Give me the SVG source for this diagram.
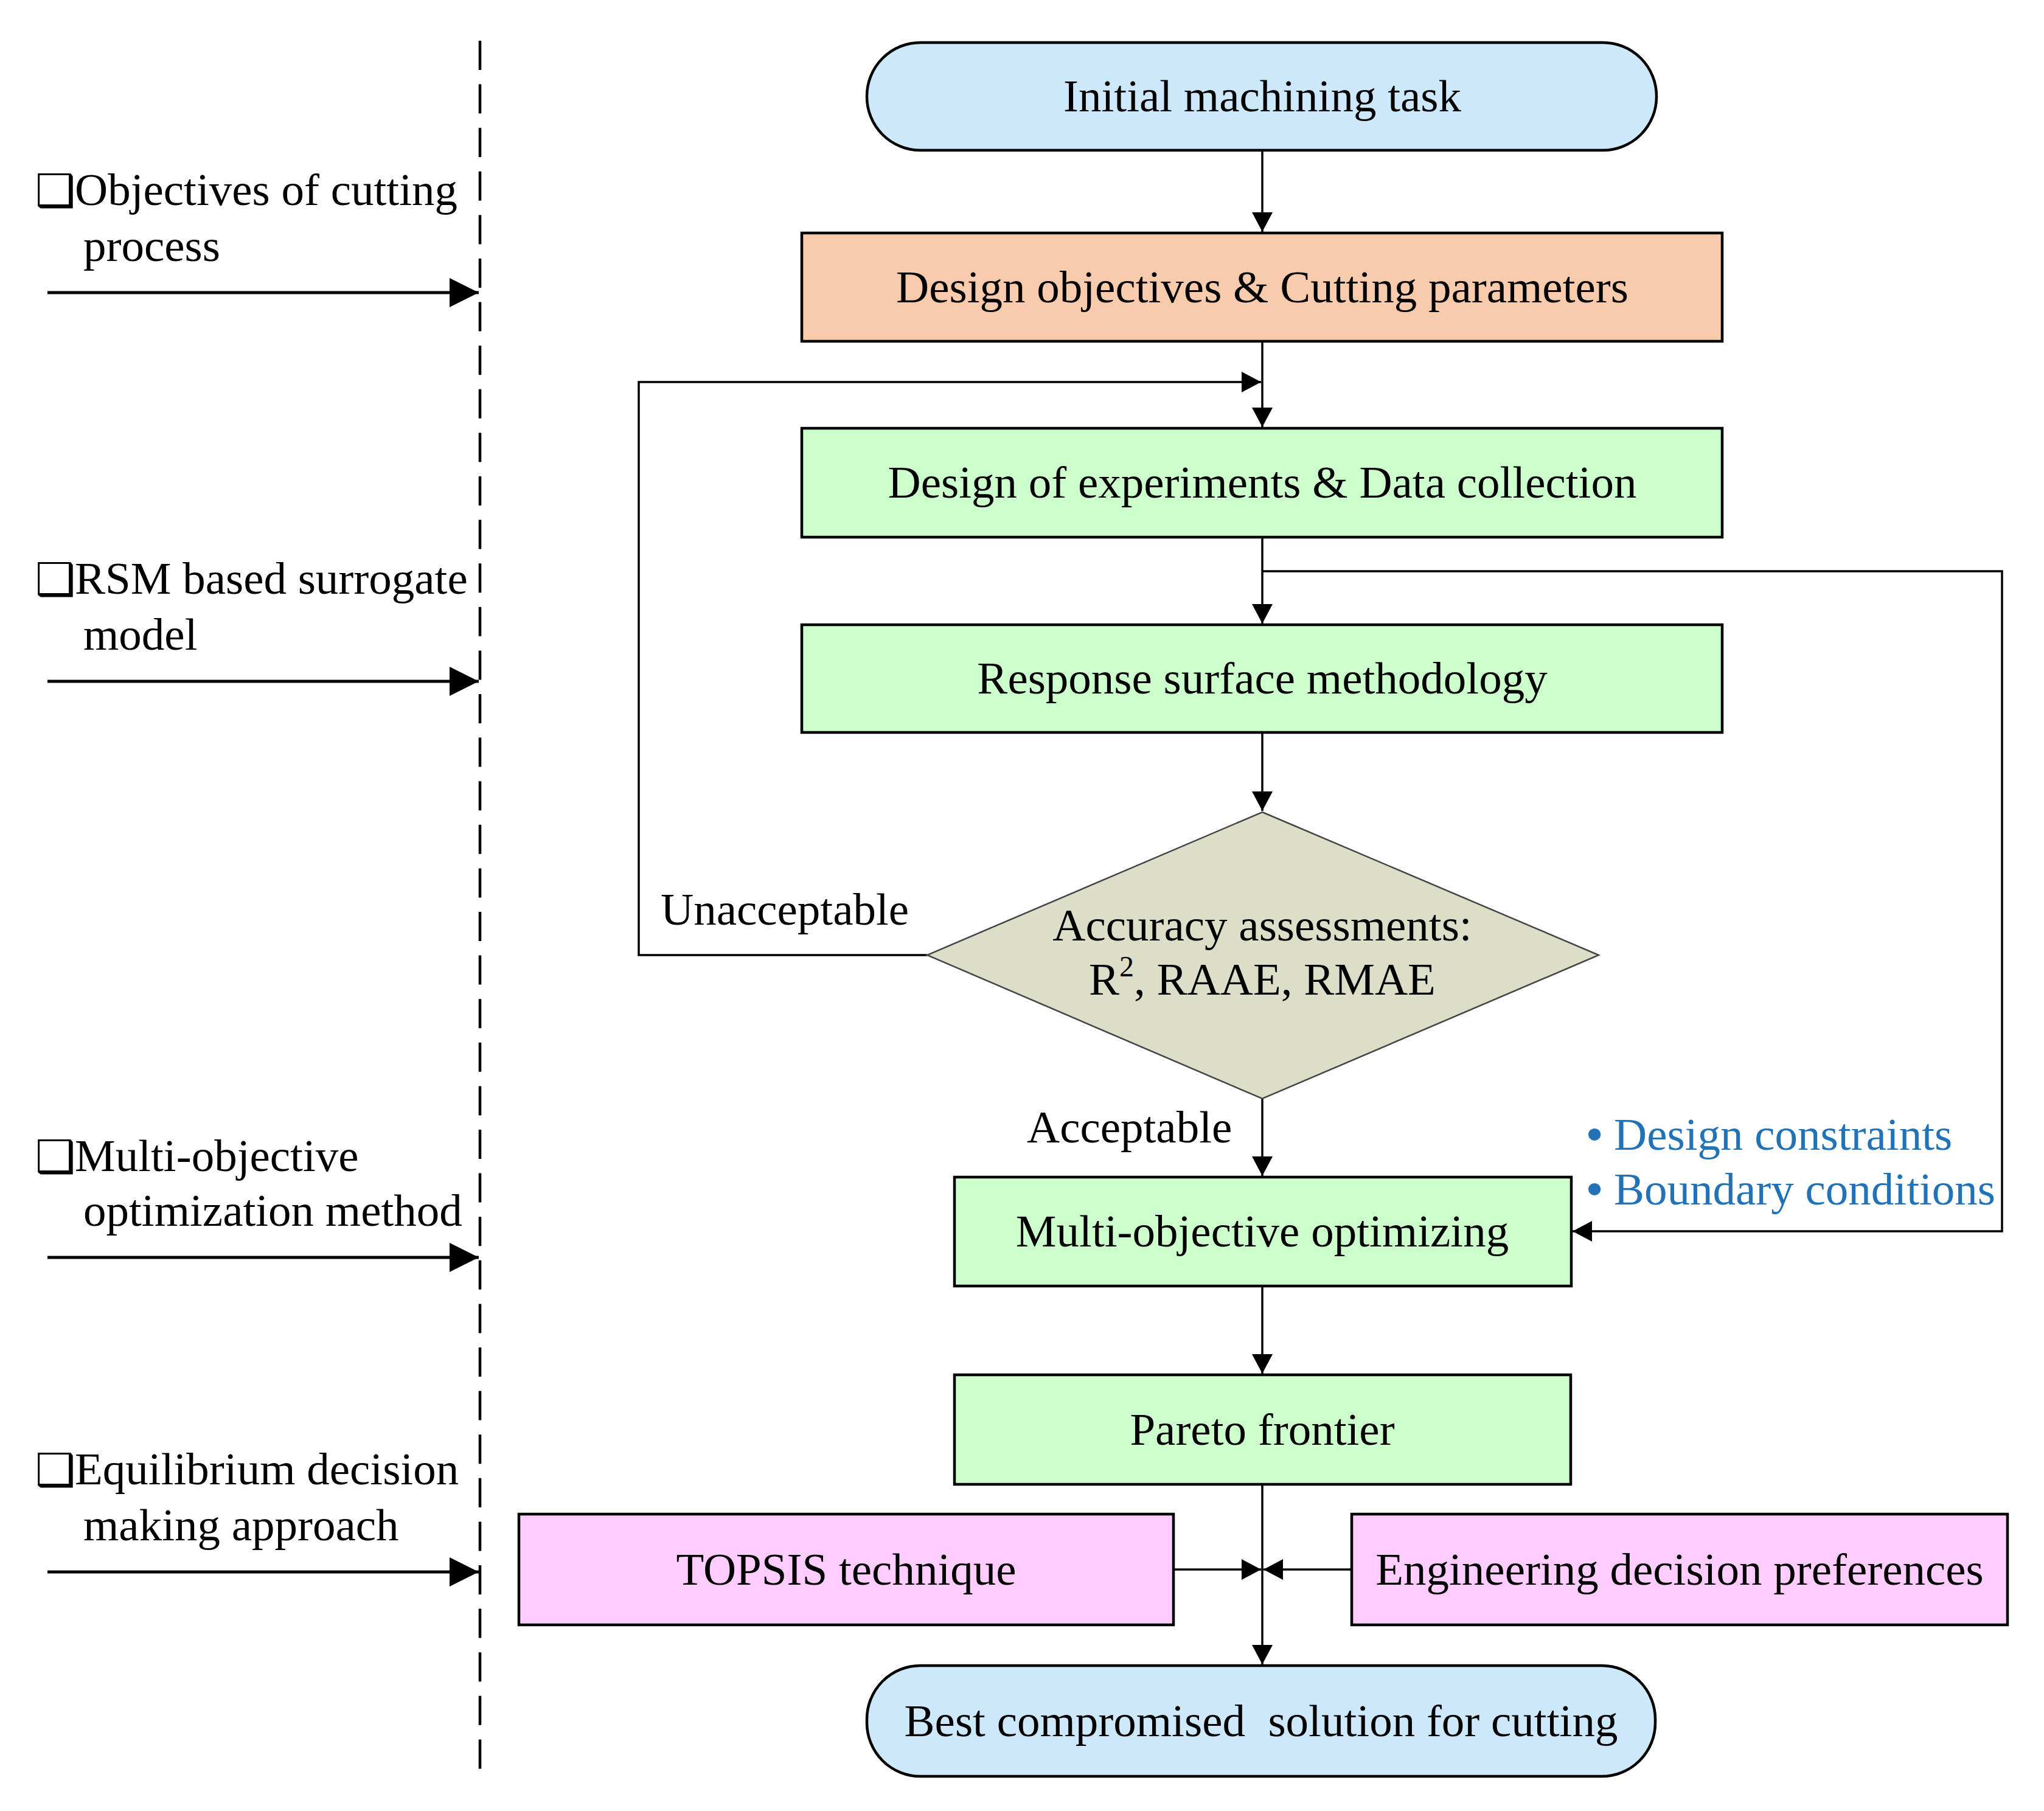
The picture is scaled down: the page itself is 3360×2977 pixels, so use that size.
<svg xmlns="http://www.w3.org/2000/svg" width="3360" height="2977" viewBox="0 0 3360 2977">
<style>
text{font-family:"Liberation Serif","Times New Roman",serif;font-size:75px;fill:#000}
.c{text-anchor:middle}
.box{stroke:#000;stroke-width:4.5}
.term{fill:#CCE8FA;stroke:#000;stroke-width:4.5}
.green{fill:#CCFFCC}
.pink{fill:#FFCCFF}
.peach{fill:#F8CBAD}
.ln{fill:none;stroke:#000;stroke-width:3.5}
.big{fill:none;stroke:#000;stroke-width:5}
.blue{fill:#2272B8}
.chk{font-family:"DejaVu Sans",sans-serif;font-size:74px}
.bul{font-weight:bold}
</style>
<defs>
<marker id="ah" markerWidth="34" markerHeight="36" refX="32" refY="17" orient="auto" markerUnits="userSpaceOnUse">
<path d="M0,0 L32,17 L0,34 z" fill="#000"/>
</marker>
<marker id="ahb" markerWidth="50" markerHeight="50" refX="48" refY="24" orient="auto" markerUnits="userSpaceOnUse">
<path d="M0,0 L48,24 L0,48 z" fill="#000"/>
</marker>
</defs>
<rect width="3360" height="2977" fill="#fff"/>

<g id="divider">
<line x1="789" y1="67" x2="789" y2="2908" stroke="#000" stroke-width="4.5" stroke-dasharray="48,23.6"/>
</g>

<g id="label-objectives">
<text x="58" y="339"><tspan class="chk">❑</tspan><tspan x="123" y="337">Objectives of cutting</tspan></text>
<text x="137" y="429">process</text>
</g>
<g id="label-rsm">
<text x="58" y="978"><tspan class="chk">❑</tspan><tspan x="123" y="976">RSM based surrogate</tspan></text>
<text x="137" y="1068">model</text>
</g>
<g id="label-moo">
<text x="58" y="1927"><tspan class="chk">❑</tspan><tspan x="123" y="1925">Multi-objective</tspan></text>
<text x="137" y="2015">optimization method</text>
</g>
<g id="label-equilibrium">
<text x="58" y="2442"><tspan class="chk">❑</tspan><tspan x="123" y="2440">Equilibrium decision</tspan></text>
<text x="137" y="2532">making approach</text>
</g>

<g id="connectors">
<line class="big" x1="78" y1="481" x2="787" y2="481" marker-end="url(#ahb)"/>
<line class="big" x1="78" y1="1120" x2="787" y2="1120" marker-end="url(#ahb)"/>
<line class="big" x1="78" y1="2067" x2="787" y2="2067" marker-end="url(#ahb)"/>
<line class="big" x1="78" y1="2584" x2="787" y2="2584" marker-end="url(#ahb)"/>

<line class="ln" x1="2075" y1="247" x2="2075" y2="381" marker-end="url(#ah)"/>
<line class="ln" x1="2075" y1="561" x2="2075" y2="702" marker-end="url(#ah)"/>
<polyline class="ln" points="1524,1570 1050,1570 1050,628 2073,628" marker-end="url(#ah)"/>
<line class="ln" x1="2075" y1="883" x2="2075" y2="1025" marker-end="url(#ah)"/>
<polyline class="ln" points="2075,939 3291,939 3291,2024 2585,2024" marker-end="url(#ah)"/>
<line class="ln" x1="2075" y1="1204" x2="2075" y2="1333" marker-end="url(#ah)"/>
<line class="ln" x1="2075" y1="1806" x2="2075" y2="1933" marker-end="url(#ah)"/>
<line class="ln" x1="2075" y1="2114" x2="2075" y2="2258" marker-end="url(#ah)"/>
<line class="ln" x1="2075" y1="2440" x2="2075" y2="2736" marker-end="url(#ah)"/>
<line class="ln" x1="1929" y1="2580" x2="2073" y2="2580" marker-end="url(#ah)"/>
<line class="ln" x1="2222" y1="2580" x2="2077" y2="2580" marker-end="url(#ah)"/>
<text x="1086" y="1520">Unacceptable</text>
<text x="1688" y="1878">Acceptable</text>
</g>

<g id="node-initial">
<rect class="term" x="1425" y="70" width="1298" height="177" rx="88" ry="88"/>
<text class="c" x="2075" y="183">Initial machining task</text>
</g>
<g id="node-design-objectives">
<rect class="box peach" x="1318" y="383" width="1513" height="178"/>
<text class="c" x="2075" y="497">Design objectives &amp; Cutting parameters</text>
</g>
<g id="node-doe">
<rect class="box green" x="1318" y="704" width="1513" height="179"/>
<text class="c" x="2075" y="818">Design of experiments &amp; Data collection</text>
</g>
<g id="node-rsm">
<rect class="box green" x="1318" y="1027" width="1513" height="177"/>
<text class="c" x="2075" y="1140">Response surface methodology</text>
</g>
<g id="node-accuracy">
<polygon points="2075,1335 2628,1570 2075,1806 1524,1570" fill="#DCDEC8" stroke="#444" stroke-width="2.5"/>
<text class="c" x="2075" y="1546">Accuracy assessments:</text>
<text class="c" x="2075" y="1635">R<tspan dy="-30" font-size="48">2</tspan><tspan dy="30">, RAAE, RMAE</tspan></text>
</g>
<g id="node-constraints">
<text class="blue" x="2608" y="1890"><tspan class="bul">•</tspan><tspan x="2653">Design constraints</tspan></text>
<text class="blue" x="2608" y="1980"><tspan class="bul">•</tspan><tspan x="2653">Boundary conditions</tspan></text>
</g>
<g id="node-moo">
<rect class="box green" x="1569" y="1935" width="1014" height="179"/>
<text class="c" x="2075" y="2049">Multi-objective optimizing</text>
</g>
<g id="node-pareto">
<rect class="box green" x="1569" y="2260" width="1013" height="180"/>
<text class="c" x="2075" y="2375">Pareto frontier</text>
</g>
<g id="node-topsis">
<rect class="box pink" x="853" y="2489" width="1076" height="182"/>
<text class="c" x="1391" y="2605">TOPSIS technique</text>
</g>
<g id="node-engineering">
<rect class="box pink" x="2222" y="2489" width="1078" height="182"/>
<text class="c" x="2761" y="2605">Engineering decision preferences</text>
</g>
<g id="node-best">
<rect class="term" x="1425" y="2738" width="1296" height="182" rx="88" ry="88"/>
<text class="c" x="2073" y="2854" xml:space="preserve">Best compromised  solution for cutting</text>
</g>
</svg>
